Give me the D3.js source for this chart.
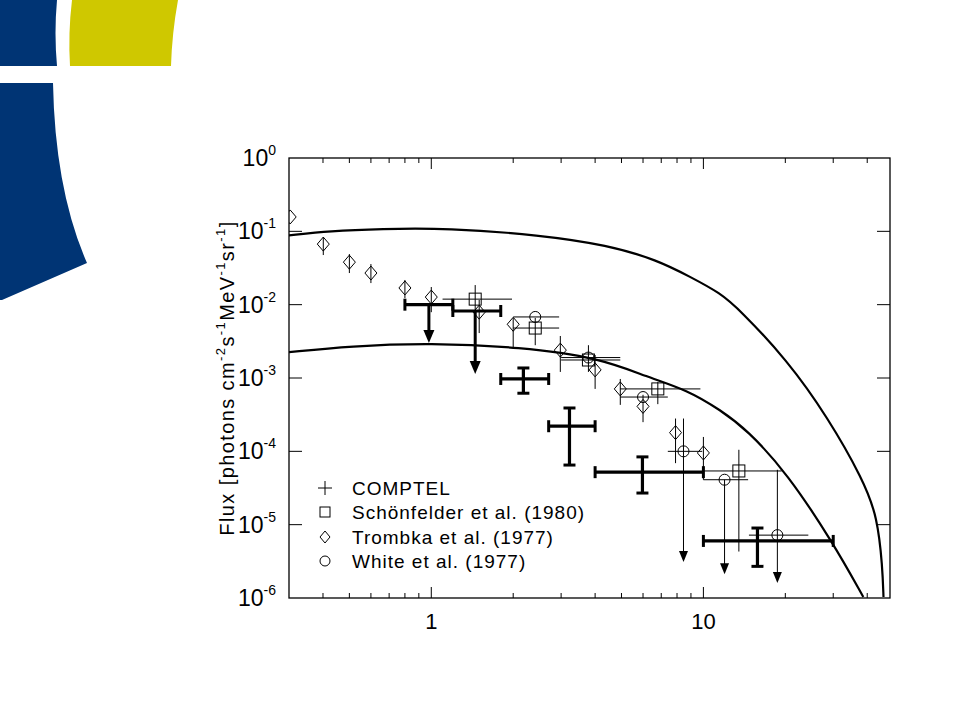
<!DOCTYPE html>
<html><head><meta charset="utf-8">
<script src="https://cdn.jsdelivr.net/npm/d3@7"></script>
<style>body{margin:0;background:#fff}text{font-family:"Liberation Sans",Arial,sans-serif}</style>
</head><body><svg id="c" width="960" height="720"></svg>
<script>
// COMPTEL
const comptelE=[0.98,1.45,2.18,3.22,5.97,15.8];
const comptelElo=[0.8,1.2,1.8,2.7,4.0,10];
const comptelEhi=[1.2,1.8,2.7,4.0,10,30];
const comptelF=[0.01,0.0082,0.00097,2.2e-4,5.2e-5,6e-6];
const comptelFlo=[0.003,0.00113,0.00062,6.5e-5,2.7e-5,2.7e-6];
const comptelFhi=[null,null,0.00137,3.9e-4,8.4e-5,9e-6];
const comptelLimit=[true,true,false,false,false,false];
// Schönfelder
const schE=[1.45,2.41,3.78,6.8,13.5];
const schElo=[1.1,2.0,3.0,4.95,10];
const schEhi=[1.98,2.95,4.95,9.75,19.4];
const schF=[0.0119,0.0048,0.00176,7.1e-4,5.4e-5];
const schFlo=[0.0045,0.0028,0.00121,4.4e-4,4.3e-6];
const schFhi=[0.0185,0.0066,0.0028,8.8e-4,1.05e-4];
// Trombka
const trE=[0.303,0.401,0.5,0.6,0.8,1.0,1.5,2.0,2.98,4.0,4.95,6.0,7.9,10];
const trF=[0.157,0.067,0.038,0.027,0.0169,0.0127,0.0079,0.0054,0.0024,0.00129,7.1e-4,4.1e-4,1.8e-4,9.5e-5];
const trFlo=[null,0.0475,0.027,0.0197,0.0123,0.0079,0.0041,0.00257,0.00121,7.1e-4,4.3e-4,2.5e-4,6.9e-5,4.1e-5];
const trFhi=[null,0.0837,0.049,0.0358,0.0217,0.0174,0.0116,0.0066,0.00374,0.00206,9.7e-4,5.9e-4,2.8e-4,1.57e-4];
// White
const whE=[2.41,3.78,6.0,8.45,11.96,18.7];
const whElo=[2.0,3.0,4.95,7.4,10,14.7];
const whEhi=[2.95,4.95,7.4,9.9,14.6,24.3];
const whF=[0.0068,0.0019,5.5e-4,1.0e-4,4.1e-5,7.2e-6];
const whLimTop=[null,null,null,2.8e-4,4.1e-5,5.6e-5];
const whLimEnd=[null,null,null,3.1e-6,2.1e-6,1.6e-6];
// Model curves
const upE=[0.3,0.425,0.65,1.145,2.52,4.44,6.77,8.97,11.54,13.6,20.3,28.6,38.7,43.6,45.5,45.9,45.9];
const upF=[0.088,0.101,0.108,0.111,0.089,0.065,0.0406,0.0238,0.0144,0.0085,0.00176,2.94e-4,4.07e-5,1.27e-5,2.65e-6,1.03e-6,1.03e-6];
const loE=[0.3,0.3,0.504,0.99,2.12,4.18,6.22,8.73,11.55,14.5,20.3,30.0,38.7,38.7];
const loF=[0.00225,0.00225,0.00273,0.0030,0.00265,0.00187,0.00103,6.86e-4,3.66e-4,1.95e-4,5.06e-5,5.6e-6,1.03e-6,1.03e-6];
const yTickExp=[0,-1,-2,-3,-4,-5,-6];
const xTickLabels=[1,10];
const legendLabels=["COMPTEL","Schönfelder et al. (1980)","Trombka et al. (1977)","White et al. (1977)"];

const svg=d3.select("#c");
svg.append("path").attr("d","M0,0H57Q54,33 57,66H0Z").attr("fill","#003474");
svg.append("path").attr("d","M72,0H178Q172,33 171,66H70Q68,33 72,0Z").attr("fill","#cfc800");
svg.append("path").attr("d","M0,83H53Q55,190 87,263L2,300H0Z").attr("fill","#003474");

const L=289,R=890,T=158,B=598;
const x=d3.scaleLog().domain([0.3,48.5]).range([L,R]);
const y=d3.scaleLog().domain([1e-6,1]).range([B,T]);
const g=svg.append("g");
g.append("rect").attr("x",L).attr("y",T).attr("width",R-L).attr("height",B-T).attr("fill","none").attr("stroke","#000").attr("stroke-width",1.3);
yTickExp.forEach(e=>{
  const yy=y(Math.pow(10,e));
  if(e!==0&&e!==-6){
    g.append("line").attr("x1",L).attr("x2",L+13).attr("y1",yy).attr("y2",yy).attr("stroke","#000");
    g.append("line").attr("x1",R).attr("x2",R-13).attr("y1",yy).attr("y2",yy).attr("stroke","#000");
  }
  const t=g.append("text").attr("x",L-13).attr("y",yy+8).attr("text-anchor","end").attr("font-size",23);
  t.append("tspan").text("10");
  t.append("tspan").attr("dy",-11).attr("font-size",14).text(e);
});
const minors=[0.4,0.5,0.6,0.7,0.8,0.9,2,3,4,5,6,7,8,9,20,30,40];
minors.forEach(v=>{
  [[B,B-5],[T,T+5]].forEach(([a,b])=>g.append("line").attr("x1",x(v)).attr("x2",x(v)).attr("y1",a).attr("y2",b).attr("stroke","#000"));
});
xTickLabels.forEach(v=>{
  [[B,B-11],[T,T+11]].forEach(([a,b])=>g.append("line").attr("x1",x(v)).attr("x2",x(v)).attr("y1",a).attr("y2",b).attr("stroke","#000"));
  g.append("text").attr("x",x(v)).attr("y",629).attr("text-anchor","middle").attr("font-size",22).text(v);
});
const yl=g.append("text").attr("transform","translate(234,378) rotate(-90)").attr("text-anchor","middle").attr("font-size",20).attr("letter-spacing",1.4);
yl.append("tspan").text("Flux [photons cm");
yl.append("tspan").attr("dy",-9).attr("font-size",13).text("-2");
yl.append("tspan").attr("dy",9).text("s");
yl.append("tspan").attr("dy",-9).attr("font-size",13).text("-1");
yl.append("tspan").attr("dy",9).text("MeV");
yl.append("tspan").attr("dy",-9).attr("font-size",13).text("-1");
yl.append("tspan").attr("dy",9).text("sr");
yl.append("tspan").attr("dy",-9).attr("font-size",13).text("-1");
yl.append("tspan").attr("dy",9).text("]");

svg.append("defs").append("clipPath").attr("id","cp").append("rect").attr("x",L).attr("y",T-10).attr("width",R-L).attr("height",B-T+10);
const p=svg.append("g").attr("clip-path","url(#cp)");
const line=d3.line().x(d=>x(d[0])).y(d=>y(d[1])).curve(d3.curveBasis);
p.append("path").attr("d",line(upE.map((e,i)=>[e,upF[i]]))).attr("fill","none").attr("stroke","#000").attr("stroke-width",2.2);
p.append("path").attr("d",line(loE.map((e,i)=>[e,loF[i]]))).attr("fill","none").attr("stroke","#000").attr("stroke-width",2.2);

function ln(x1,y1,x2,y2,w){p.append("line").attr("x1",x1).attr("y1",y1).attr("x2",x2).attr("y2",y2).attr("stroke","#000").attr("stroke-width",w);}
function arrow(xx,yy,w,h){p.append("path").attr("d",`M${xx-w/2},${yy-h}L${xx+w/2},${yy-h}L${xx},${yy}Z`).attr("fill","#000");}
function diamond(cx,cy){p.append("path").attr("d",`M${cx},${cy-7}L${cx+6},${cy}L${cx},${cy+7}L${cx-6},${cy}Z`).attr("fill","none").attr("stroke","#000");}
function square(cx,cy){p.append("rect").attr("x",cx-6).attr("y",cy-6).attr("width",12).attr("height",12).attr("fill","none").attr("stroke","#000");}
function circle(cx,cy){p.append("circle").attr("cx",cx).attr("cy",cy).attr("r",5.5).attr("fill","none").attr("stroke","#000");}

trE.forEach((e,i)=>{
  const cx=x(e),cy=y(trF[i]);
  if(trFlo[i])ln(cx,y(trFhi[i]),cx,y(trFlo[i]),1);
  diamond(cx,cy);
});
schE.forEach((e,i)=>{
  const cx=x(e),cy=y(schF[i]);
  ln(x(schElo[i]),cy,x(schEhi[i]),cy,1);
  ln(cx,y(schFhi[i]),cx,y(schFlo[i]),1);
  square(cx,cy);
});
whE.forEach((e,i)=>{
  const cx=x(e),cy=y(whF[i]);
  ln(x(whElo[i]),cy,x(whEhi[i]),cy,1);
  if(whLimTop[i]){ln(cx,y(whLimTop[i]),cx,y(whLimEnd[i])-8,1);arrow(cx,y(whLimEnd[i]),9,11);}
  circle(cx,cy);
});
comptelE.forEach((e,i)=>{
  const cx=x(e),cy=y(comptelF[i]),x0=x(comptelElo[i]),x1=x(comptelEhi[i]);
  ln(x0,cy,x1,cy,3.2);ln(x0,cy-6,x0,cy+6,3);ln(x1,cy-6,x1,cy+6,3);
  if(comptelLimit[i]){
    ln(cx,cy,cx,y(comptelFlo[i])-8,3);arrow(cx,y(comptelFlo[i]),11,13);
  } else {
    const yt=y(comptelFhi[i]),yb=y(comptelFlo[i]);
    ln(cx,yt,cx,yb,3.2);ln(cx-6,yt,cx+6,yt,3);ln(cx-6,yb,cx+6,yb,3);
  }
});
const ly=[488,512,537,561];
legendLabels.forEach((t,i)=>{
  svg.append("text").attr("x",352).attr("y",ly[i]+7).attr("font-size",19).attr("letter-spacing",1.0).text(t);
});
const lx=325;
svg.append("path").attr("d",`M${lx-7},${ly[0]}H${lx+7}M${lx},${ly[0]-7}V${ly[0]+7}`).attr("stroke","#000");
svg.append("rect").attr("x",lx-5).attr("y",ly[1]-5).attr("width",10).attr("height",10).attr("fill","none").attr("stroke","#000");
svg.append("path").attr("d",`M${lx},${ly[2]-6}L${lx+5},${ly[2]}L${lx},${ly[2]+6}L${lx-5},${ly[2]}Z`).attr("fill","none").attr("stroke","#000");
svg.append("circle").attr("cx",lx).attr("cy",ly[3]).attr("r",5).attr("fill","none").attr("stroke","#000");
</script></body></html>
